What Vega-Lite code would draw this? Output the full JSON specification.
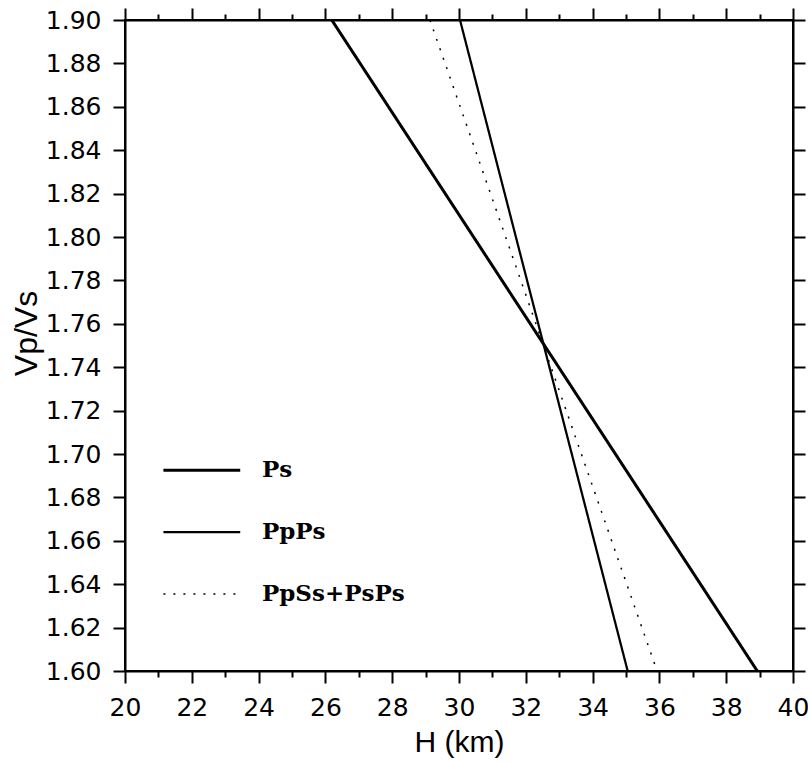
{
  "$schema": "https://vega.github.io/schema/vega-lite/v6.json",
  "autosize": "none",
  "width": 668,
  "height": 651,
  "padding": {"left": 125, "top": 20, "right": 15, "bottom": 92},
  "background": "white",
  "config": {
    "view": {"stroke": "black", "strokeWidth": 2},
    "axis": {"domainColor": "black", "domainWidth": 2, "tickColor": "black", "tickWidth": 2, "grid": false, "labelColor": "black", "titleColor": "black", "labelFont": "DejaVu Sans", "titleFont": "Liberation Sans", "labelFlush": false, "labelOverlap": false}
  },
  "datasets": {
    "curves": [
      {"series": "Ps", "H": 26.19, "k": 1.90},
      {"series": "Ps", "H": 38.93, "k": 1.60},
      {"series": "PpPs", "H": 30.03, "k": 1.90},
      {"series": "PpPs", "H": 35.05, "k": 1.60},
      {"series": "PpSs+PsPs", "H": 29.13, "k": 1.90},
      {"series": "PpSs+PsPs", "H": 35.93, "k": 1.60}
    ],
    "legend": [
      {"series": "Ps", "x1": 21.15, "x2": 23.45, "y": 1.6925, "tx": 24.1},
      {"series": "PpPs", "x1": 21.15, "x2": 23.45, "y": 1.664, "tx": 24.1},
      {"series": "PpSs+PsPs", "x1": 21.15, "x2": 23.45, "y": 1.6355, "tx": 24.1}
    ]
  },
  "resolve": {"axis": {"x": "independent", "y": "independent"}},
  "layer": [
    {
      "data": {"name": "curves"},
      "mark": {"type": "line", "color": "black", "clip": true},
      "encoding": {
        "x": {"field": "H", "type": "quantitative", "scale": {"domain": [20, 40], "nice": false, "zero": false},
          "axis": {"orient": "bottom", "values": [20,22,24,26,28,30,32,34,36,38,40], "tickSize": 12, "labelFontSize": 25, "labelPadding": 12, "title": "H (km)", "titleFontSize": 30, "titleFontWeight": "normal", "titlePadding": 7}},
        "y": {"field": "k", "type": "quantitative", "scale": {"domain": [1.60, 1.90], "nice": false, "zero": false},
          "axis": {"orient": "left", "values": [1.60,1.62,1.64,1.66,1.68,1.70,1.72,1.74,1.76,1.78,1.80,1.82,1.84,1.86,1.88,1.90], "format": ".2f", "tickSize": 12, "labelFontSize": 25, "labelPadding": 12, "title": "Vp/Vs", "titleFontSize": 32, "titleFontWeight": "normal", "titlePadding": 2, "titleY": 313}},
        "detail": {"field": "series"},
        "strokeWidth": {"field": "series", "type": "nominal", "scale": {"domain": ["Ps", "PpPs", "PpSs+PsPs"], "range": [3, 1.5, 2.2]}, "legend": null},
        "strokeDash": {"field": "series", "type": "nominal", "scale": {"domain": ["Ps", "PpPs", "PpSs+PsPs"], "range": [[1,0], [1,0], [2,8]]}, "legend": null}
      }
    },
    {
      "data": {"name": "legend"},
      "mark": {"type": "rule", "color": "black"},
      "encoding": {
        "x": {"field": "x1", "type": "quantitative", "axis": {"orient": "top", "values": [20,22,24,26,28,30,32,34,36,38,40], "tickSize": 12, "labels": false, "title": null}},
        "x2": {"field": "x2"},
        "y": {"field": "y", "type": "quantitative", "axis": {"orient": "right", "values": [1.60,1.62,1.64,1.66,1.68,1.70,1.72,1.74,1.76,1.78,1.80,1.82,1.84,1.86,1.88,1.90], "tickSize": 12, "labels": false, "title": null}},
        "strokeWidth": {"field": "series", "type": "nominal", "legend": null},
        "strokeDash": {"field": "series", "type": "nominal", "legend": null}
      }
    },
    {
      "data": {"name": "legend"},
      "mark": {"type": "text", "align": "left", "baseline": "middle", "font": "DejaVu Serif", "fontWeight": "bold", "fontSize": 23, "color": "black"},
      "encoding": {
        "x": {"field": "tx", "type": "quantitative", "axis": {"orient": "bottom", "values": [21,23,25,27,29,31,33,35,37,39], "tickSize": 6, "labels": false, "title": null, "domain": false}},
        "y": {"field": "y", "type": "quantitative", "axis": null},
        "text": {"field": "series"}
      }
    },
    {
      "data": {"name": "legend"},
      "mark": {"type": "point", "opacity": 0},
      "encoding": {
        "x": {"field": "tx", "type": "quantitative", "axis": {"orient": "top", "values": [21,23,25,27,29,31,33,35,37,39], "tickSize": 6, "labels": false, "title": null, "domain": false}},
        "y": {"field": "y", "type": "quantitative", "axis": null}
      }
    }
  ]
}
